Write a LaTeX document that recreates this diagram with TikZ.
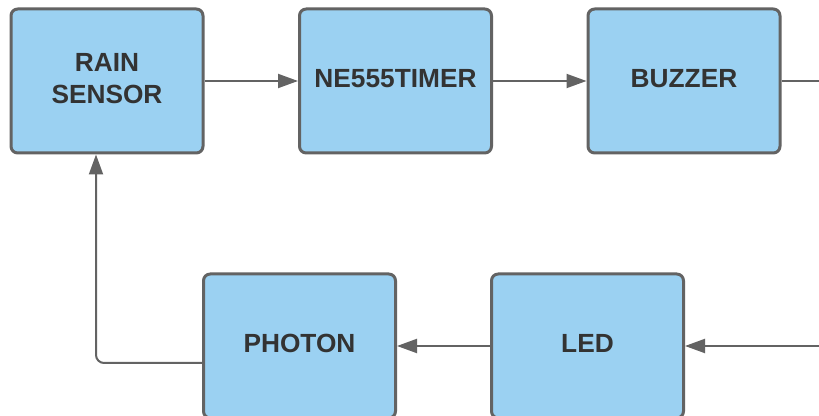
\documentclass[tikz,border=0pt]{standalone}
\usepackage{fontspec}
\setmainfont{Liberation Sans}
\usetikzlibrary{calc,arrows.meta}
\definecolor{hop}{HTML}{9BD1F2}
\definecolor{vien}{HTML}{636363}
\definecolor{chu}{HTML}{333333}
\begin{document}
\begin{tikzpicture}[x=0.75pt,y=-0.75pt,line join=round,
	khoi/.style={draw=vien,fill=hop,line width=2.25pt,rounded corners=5pt,minimum width=144pt,minimum height=108pt,text=chu,font=\fontsize{19.7}{24}\selectfont\bfseries,align=center,inner sep=0pt,text depth=4.5pt},
	noi/.style={draw=vien,line width=1.5pt,-{Triangle[length=15pt,width=10.5pt]}}]
	% Khung hình
	\useasboundingbox (0,0) rectangle (819,416);
	% Hàng trên
	\node[khoi] (rain) at (107,81) {RAIN\\SENSOR};
	\node[khoi] (timer) at (395.5,81) {NE555TIMER};
	\node[khoi] (buzzer) at (684,81) {BUZZER};
	% Hàng dưới
	\node[khoi] (photon) at (299.5,346) {PHOTON};
	\node[khoi] (led) at (587.5,346) {LED};
	\coordinate (ra) at (819,81);
	\coordinate (vao) at (819,346);
	% Mũi tên
	\draw[noi] (rain) -- (timer);
	\draw[noi] (timer) -- (buzzer);
	\draw[draw=vien,line width=1.5pt] (buzzer) -- (ra);
	\draw[noi] (vao) -- (led);
	\draw[noi] (led) -- (photon);
	\draw[noi,rounded corners=6pt] ($(photon.west)+(0,17)$) -| ($(rain.south)+(-11,0)$);
\end{tikzpicture}
\end{document}
